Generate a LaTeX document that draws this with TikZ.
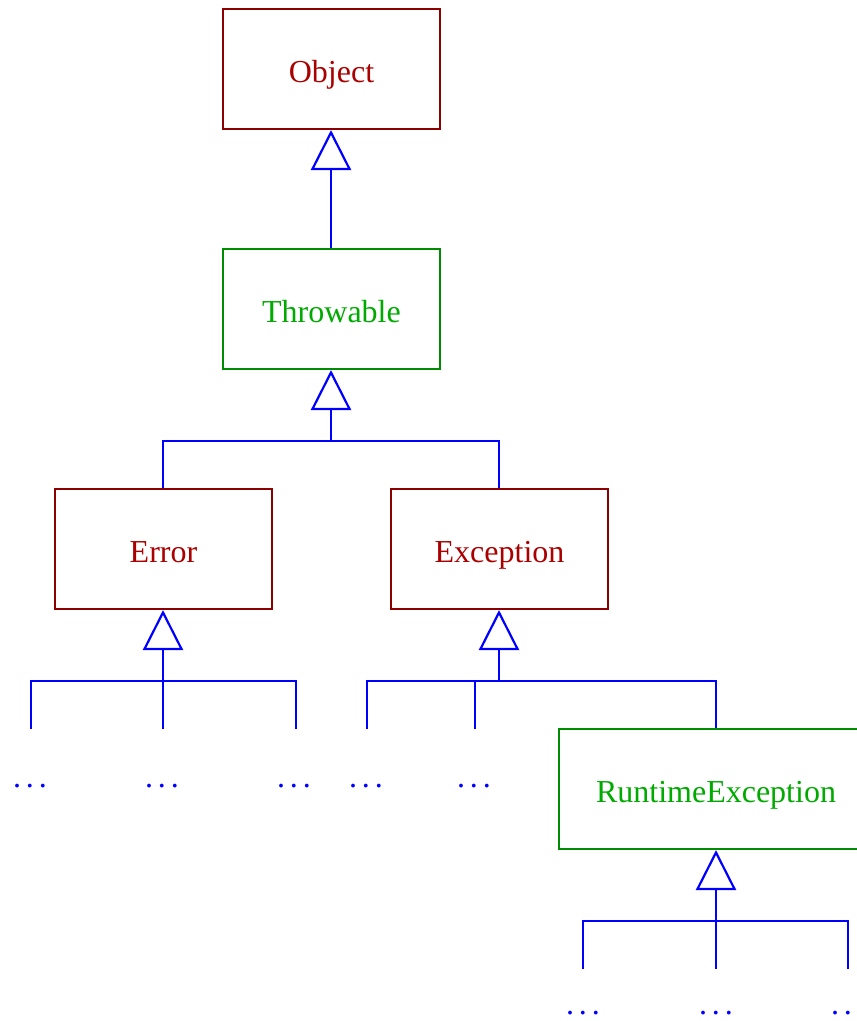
\documentclass[tikz,border=0pt]{standalone}
\usepackage{fontspec}
\setmainfont{Liberation Serif}
\usetikzlibrary{arrows.meta}
\definecolor{bred}{RGB}{140,0,0}
\definecolor{tred}{RGB}{170,0,0}
\definecolor{bgreen}{RGB}{0,140,0}
\definecolor{tgreen}{RGB}{0,170,0}
\newcommand\threedots{.\kern5pt.\kern5pt.}
\begin{document}
\begin{tikzpicture}[x=1pt,y=-1pt,
  font=\fontsize{32}{38}\selectfont,
  cls/.style={draw, line width=2pt, minimum width=217pt, minimum height=120pt, inner sep=0pt, text height=26pt, text depth=0pt},
  redcls/.style={cls, draw=bred, text=tred},
  greencls/.style={cls, draw=bgreen, text=tgreen},
  link/.style={draw=blue, line width=2.2pt},
  inh/.style={link, -{Triangle[open,length=40pt,width=40pt]}},
  more/.style={text=blue, inner sep=0pt}]
\useasboundingbox (0,0) rectangle (857,1021);
\clip (0,0) rectangle (857,1021);
% classes
\node[redcls] (obj) at (331.5,69) {Object};
\node[greencls] (thr) at (331.5,309) {Throwable};
\node[redcls] (err) at (163.5,549) {Error};
\node[redcls] (exc) at (499.5,549) {Exception};
\node[greencls, minimum width=314pt] (rte) at (716,789) {RuntimeException};
% unknown subclasses
\node[more] (ed1) at (30,786) {\threedots};
\node[more] (ed2) at (162,786) {\threedots};
\node[more] (ed3) at (294,786) {\threedots};
\node[more] (xd1) at (366,786) {\threedots};
\node[more] (xd2) at (474,786) {\threedots};
\node[more] (rd1) at (583,1013) {\threedots};
\node[more] (rd2) at (716,1013) {\threedots};
\node[more] (rd3) at (848,1013) {\threedots};
% connector ends and junctions
\coordinate (e1) at (31,729);
\coordinate (e2) at (163,729);
\coordinate (e3) at (296,729);
\coordinate (x1) at (367,729);
\coordinate (x2) at (475,729);
\coordinate (r1) at (583,969);
\coordinate (r2) at (716,969);
\coordinate (r3) at (848,969);
\coordinate (jt) at (331,441);
\coordinate (je) at (163,681);
\coordinate (jx) at (499,681);
\coordinate (jr) at (716,921);
% connectors
\draw[inh] (thr.north -| jt) -- (obj.south -| jt);
\draw[inh] (jt) -- (thr.south -| jt);
\draw[link] (err.north -| je) |- (jt) -| (exc.north -| jx);
\draw[inh] (je) -- (err.south -| je);
\draw[link] (e1) |- (je) -| (e3);
\draw[link] (e2) -- (je);
\draw[inh] (jx) -- (exc.south -| jx);
\draw[link] (x1) |- (jx) -| (rte.north);
\draw[link] (x2) -- (x2 |- jx);
\draw[inh] (jr) -- (rte.south);
\draw[link] (r1) |- (jr) -| (r3);
\draw[link] (r2) -- (jr);
\end{tikzpicture}
\end{document}
